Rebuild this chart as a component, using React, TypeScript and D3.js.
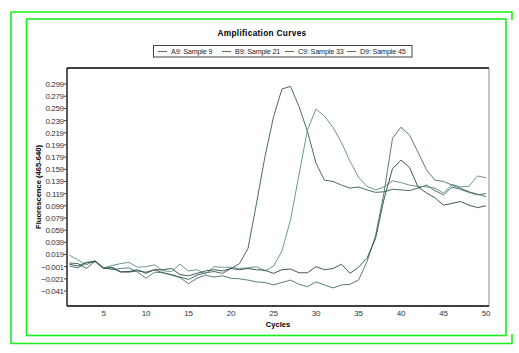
import React from "react";
import * as d3 from "d3";

const cycles = d3.range(1, 51);

const seriesNames = ["A9: Sample 9", "B9: Sample 21", "C9: Sample 33", "D9: Sample 45"];
const seriesColors = ["#355a57", "#5a8a84", "#44716c", "#284845"];

const sampleA = [
  0.005, 0.004, -0.004, 0.008, -0.004, -0.002, -0.009, -0.01, -0.008, -0.01,
  -0.006, -0.011, -0.014, -0.018, -0.022, -0.015, -0.011, -0.009, -0.012, -0.004,
  0.004, 0.029, 0.103, 0.18, 0.245, 0.291, 0.295, 0.262, 0.221, 0.169,
  0.141, 0.139, 0.133, 0.128, 0.13, 0.125, 0.121, 0.122, 0.126, 0.125,
  0.124, 0.128, 0.133, 0.124, 0.117, 0.13, 0.126, 0.121, 0.117, 0.119,
];
const sampleB = [
  0.018, 0.01, 0.002, 0.009, -0.003, 0.001, 0.004, 0.006, -0.002, -0.001,
  0.002, -0.008, -0.009, 0.003, -0.008, -0.006, -0.013, -0.001, -0.002, -0.002,
  -0.004, -0.003, -0.001, -0.008, 0.0, 0.025, 0.076, 0.15, 0.224, 0.258,
  0.246, 0.228, 0.203, 0.172, 0.146, 0.131, 0.125, 0.13, 0.14, 0.137,
  0.133, 0.131, 0.13, 0.128, 0.12, 0.134, 0.13, 0.131, 0.148, 0.145,
];
const sampleC = [
  0.0, -0.003, 0.005, 0.007, -0.002, -0.006, -0.004, -0.003, -0.01, -0.02,
  -0.01, -0.011, -0.015, -0.019, -0.029, -0.02, -0.015, -0.018, -0.016, -0.02,
  -0.021, -0.023, -0.026, -0.027, -0.031, -0.027, -0.023, -0.03, -0.034, -0.026,
  -0.031, -0.036, -0.031, -0.03, -0.023, 0.007, 0.05, 0.12, 0.21, 0.228,
  0.215, 0.187, 0.158, 0.141, 0.139, 0.133, 0.128, 0.122, 0.118, 0.114,
];
const sampleD = [
  0.003, 0.0, 0.006, 0.008, -0.004, -0.003, -0.01, -0.009, -0.006, -0.012,
  -0.006, -0.006, -0.004, -0.014, -0.016, -0.012, -0.008, -0.006, -0.008, -0.004,
  -0.006, -0.004, -0.006, -0.007, -0.012, -0.006, -0.005, -0.011, -0.011, -0.001,
  -0.006, -0.004, 0.003, -0.012, -0.002, 0.013, 0.045, 0.11, 0.16, 0.174,
  0.162, 0.13, 0.12, 0.112, 0.1, 0.103, 0.106, 0.1, 0.096, 0.099,
];
const seriesValues = [sampleA, sampleB, sampleC, sampleD];

const yTickValues = [
  0.299, 0.279, 0.259, 0.239, 0.219, 0.199, 0.179, 0.159, 0.139, 0.119,
  0.099, 0.079, 0.059, 0.039, 0.019, -0.001, -0.021, -0.041,
];
const xTickValues = [5, 10, 15, 20, 25, 30, 35, 40, 45, 50];

const W = 519;
const H = 353;
const plot = { left: 67, top: 68, right: 489, bottom: 306 };
const FONT = "'Liberation Sans', Arial, sans-serif";

export default function App() {
  const x = d3.scaleLinear().domain([1, 50]).range([69.5, 486]);
  const y = d3.scaleLinear().domain([-0.0656, 0.3253]).range([plot.bottom, plot.top]);
  const line = d3
    .line<number>()
    .x((_, i) => x(cycles[i]))
    .y((v) => y(v));

  const legendItemsX = [158, 222, 285, 347];

  return (
    <svg
      width={W}
      height={H}
      style={{ position: "fixed", left: 0, top: 0, background: "#fff" }}
      fontFamily={FONT}
    >
      <rect x={0} y={0} width={W} height={H} fill="#fff" />
      {/* green frames */}
      <g stroke="#19f019" strokeWidth={1.6} fill="none">
        <path d="M10.5,12 H512 V20" />
        <path d="M11,12 V343.5 H512 V334" />
        <rect x={26.5} y={19} width={479.5} height={316.5} />
      </g>

      {/* title */}
      <text x={262} y={36} textAnchor="middle" fontSize={8.3} fontWeight="bold" letterSpacing={0.3} fill="#000">
        Amplification Curves
      </text>

      {/* legend */}
      <rect x={153.5} y={45.5} width={258.5} height={11.5} fill="#fff" stroke="#444" strokeWidth={1} />
      {seriesNames.map((name, i) => (
        <g key={name}>
          <line x1={legendItemsX[i]} x2={legendItemsX[i] + 9} y1={51.5} y2={51.5} stroke="#555" strokeWidth={0.9} />
          <text x={legendItemsX[i] + 13} y={54.2} fontSize={7.2} letterSpacing={-0.15} fill="#222">
            {name}
          </text>
        </g>
      ))}

      {/* plot frame */}
      <line x1={plot.left} x2={plot.right} y1={plot.top} y2={plot.top} stroke="#000" strokeWidth={1.3} />
      <line x1={plot.left} x2={plot.left} y1={plot.top} y2={plot.bottom} stroke="#000" strokeWidth={1.3} />
      <line x1={plot.right} x2={plot.right} y1={plot.top} y2={plot.bottom} stroke="#8a8a8a" strokeWidth={1} />
      <line x1={plot.left} x2={plot.right} y1={plot.bottom} y2={plot.bottom} stroke="#000" strokeWidth={1.6} />

      {/* y ticks */}
      {yTickValues.map((v) => (
        <g key={v}>
          <line x1={plot.left - 3} x2={plot.left} y1={y(v)} y2={y(v)} stroke="#444" strokeWidth={1} />
          <text x={plot.left - 3.5} y={y(v) + 3} textAnchor="end" fontSize={8} letterSpacing={-0.4} fill="#333">
            {d3.format(".3f")(v)}
          </text>
        </g>
      ))}

      {/* x ticks */}
      {xTickValues.map((c) => (
        <text key={c} x={x(c)} y={316} textAnchor="middle" fontSize={8} letterSpacing={-0.3} fill="#333">
          {c}
        </text>
      ))}

      <text x={278} y={326.5} textAnchor="middle" fontSize={7.6} fontWeight="bold" fill="#000">
        Cycles
      </text>
      <text
        transform={`translate(40.5,187) rotate(-90)`}
        textAnchor="middle"
        fontSize={7.6}
        fontWeight="bold"
        fill="#000"
      >
        Fluorescence (465-640)
      </text>

      {/* curves */}
      <g fill="none" strokeWidth={0.9} strokeLinejoin="round">
        {seriesValues.map((vals, i) => (
          <path key={seriesNames[i]} d={line(vals) || ""} stroke={seriesColors[i]} />
        ))}
      </g>
    </svg>
  );
}
